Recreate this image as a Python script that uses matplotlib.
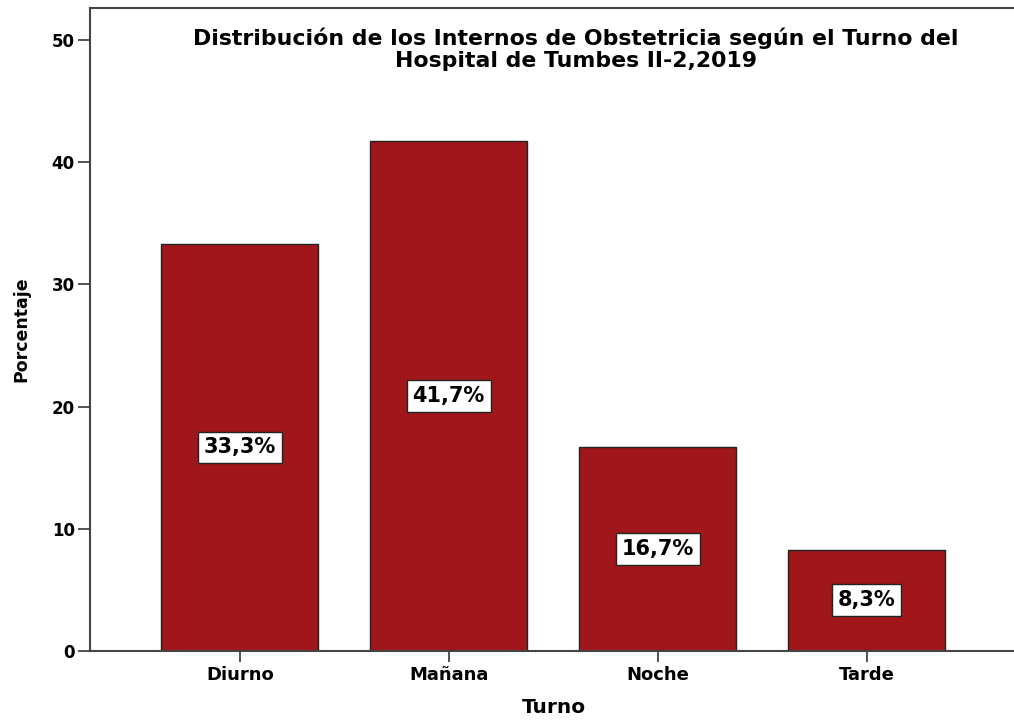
import matplotlib
matplotlib.use("Agg")
import matplotlib.pyplot as plt

categories = ["Diurno", "Mañana", "Noche", "Tarde"]
values = [33.3, 41.7, 16.7, 8.3]
labels = ["33,3%", "41,7%", "16,7%", "8,3%"]
yticks = [0, 10, 20, 30, 40, 50]

fig = plt.figure(figsize=(10.14, 7.22), dpi=100)
ax = fig.add_axes([90/1014, 1 - 651/722, (1018-90)/1014, (651-8)/722])
x = list(range(len(categories)))
ax.bar(x, values, width=0.75, color="#A0161A", edgecolor="#222222", linewidth=1.0, zorder=2)
ax.set_xlim(-0.717, 3.725)
ax.set_ylim(0, 52.6)
ax.set_yticks(yticks)
ax.set_xticks(x)
ax.set_xticklabels(categories, fontfamily="DejaVu Sans", fontweight="bold", fontsize=13)
for t in ax.get_yticklabels():
    t.set_fontweight("bold"); t.set_fontsize(12); t.set_fontfamily("DejaVu Sans")
ax.tick_params(axis="y", length=9, width=1.3, color="#444444", pad=2)
ax.tick_params(axis="x", length=8, width=1.3, color="#444444", pad=3)
for s in ["left", "top", "bottom", "right"]:
    ax.spines[s].set_color("#444444")
    ax.spines[s].set_linewidth(1.5)

for xi, v, lab in zip(x, values, labels):
    ax.text(xi, v / 2, lab, ha="center", va="center", fontsize=15,
            fontfamily="DejaVu Sans", fontweight="bold", color="black", zorder=3,
            bbox=dict(boxstyle="square,pad=0.28", facecolor="white", edgecolor="#222222", linewidth=1.0))

ax.text((576-90)/(1018-90), 1 - (49-8)/(651-8),
        "Distribución de los Internos de Obstetricia según el Turno del\nHospital de Tumbes II-2,2019",
        transform=ax.transAxes, ha="center", va="center", fontsize=15.8,
        fontfamily="DejaVu Sans", fontweight="bold", linespacing=1.15)

ax.set_xlabel("Turno", fontweight="bold", fontsize=14.5, fontfamily="DejaVu Sans", labelpad=10)
ax.set_ylabel("Porcentaje", fontweight="bold", fontsize=12.5, fontfamily="DejaVu Sans", labelpad=15)

fig.savefig("out.png", dpi=100)
